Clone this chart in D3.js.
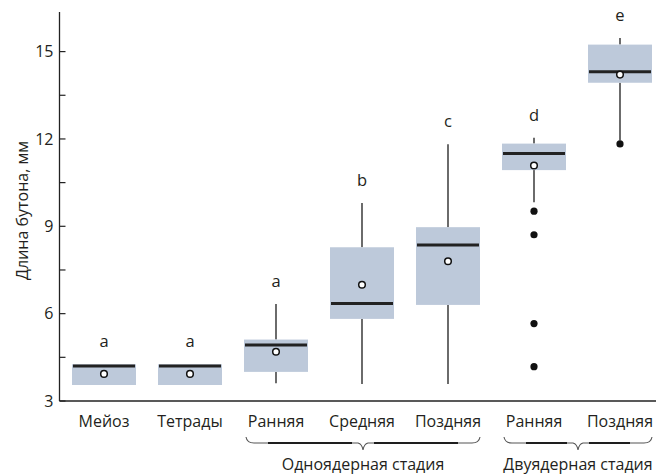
<!DOCTYPE html>
<html>
<head>
<meta charset="utf-8">
<script src="https://cdn.jsdelivr.net/npm/d3@7"></script>
<style>
  html, body { margin: 0; padding: 0; background: #fff; }
  svg { display: block; font-family: "Open Sans", "Noto Sans", sans-serif; }
</style>
</head>
<body>
<svg id="chart" width="662" height="474"></svg>
<script>
// Bud length by developmental stage (mm)
const categories = ["Мейоз", "Тетрады", "Ранняя", "Средняя", "Поздняя", "Ранняя", "Поздняя"];
const q1 =        [3.55, 3.55, 4.00, 5.82, 6.30, 10.93, 13.93];
const q3 =        [4.26, 4.26, 5.11, 8.28, 8.97, 11.84, 15.24];
const medians =   [4.20, 4.20, 4.92, 6.35, 8.36, 11.50, 14.31];
const means =     [3.93, 3.93, 4.69, 6.99, 7.80, 11.09, 14.21];
const whiskerLo = [3.55, 3.55, 3.61, 3.58, 3.58, 9.83, 11.95];
const whiskerHi = [4.26, 4.26, 6.33, 9.80, 11.82, 12.04, 15.47];
const outliers =  [[], [], [], [], [], [9.52, 8.71, 5.66, 4.18], [11.83]];
const letters =   ["a", "a", "a", "b", "c", "d", "e"];

const yTicks = [3, 6, 9, 12, 15];
const yMinorTicks = [4.5, 7.5, 10.5, 13.5];
const groups = [
  { label: "Одноядерная стадия", from: 2, to: 4 },
  { label: "Двуядерная стадия", from: 5, to: 6 }
];
const yTitle = "Длина бутона, мм";

const svg = d3.select("#chart");
const axisX = 59.5, axisY = 401, plotTop = 12, plotRight = 656;

const x = d3.scalePoint().domain(d3.range(categories.length)).range([104, 620]);
const y = d3.scaleLinear().domain([3, 16.36]).range([axisY, plotTop]);
const boxW = 64;
const ink = "#1c1c1c";
const textInk = "#231f20";

const rows = categories.map((c, i) => ({
  i, c, q1: q1[i], q3: q3[i], med: medians[i], mean: means[i],
  lo: whiskerLo[i], hi: whiskerHi[i], out: outliers[i], letter: letters[i]
}));

// whiskers
const g = svg.append("g");
rows.forEach(d => {
  if (d.hi > d.q3) g.append("line").attr("x1", x(d.i)).attr("x2", x(d.i))
    .attr("y1", y(d.hi)).attr("y2", y(d.q3)).attr("stroke", ink).attr("stroke-width", 1.3);
  if (d.lo < d.q1) g.append("line").attr("x1", x(d.i)).attr("x2", x(d.i))
    .attr("y1", y(d.q1)).attr("y2", y(d.lo)).attr("stroke", ink).attr("stroke-width", 1.3);
});

// boxes
g.selectAll("rect.box").data(rows).join("rect").attr("class", "box")
  .attr("x", d => x(d.i) - boxW / 2).attr("width", boxW)
  .attr("y", d => y(d.q3)).attr("height", d => y(d.q1) - y(d.q3))
  .attr("fill", "#bdc9da");

// medians
g.selectAll("line.med").data(rows).join("line").attr("class", "med")
  .attr("x1", d => x(d.i) - boxW / 2 + 1).attr("x2", d => x(d.i) + boxW / 2 - 1)
  .attr("y1", d => y(d.med)).attr("y2", d => y(d.med))
  .attr("stroke", "#222").attr("stroke-width", 3);

// outliers
rows.forEach(d => {
  g.selectAll(null).data(d.out).join("circle")
    .attr("cx", x(d.i)).attr("cy", v => y(v)).attr("r", 3.6).attr("fill", "#111");
});

// means
g.selectAll("circle.mean").data(rows).join("circle").attr("class", "mean")
  .attr("cx", d => x(d.i)).attr("cy", d => y(d.mean)).attr("r", 3.3)
  .attr("fill", "#fff").attr("stroke", "#111").attr("stroke-width", 1.5);

// significance letters, set just above the upper whisker
g.selectAll("text.letter").data(rows).join("text").attr("class", "letter")
  .attr("x", d => x(d.i)).attr("y", d => y(d.hi) - 17)
  .attr("text-anchor", "middle").attr("font-size", 16.5).attr("fill", textInk)
  .text(d => d.letter);

// y axis
const yAxis = svg.append("g");
yAxis.append("line").attr("x1", axisX).attr("x2", axisX).attr("y1", plotTop).attr("y2", axisY)
  .attr("stroke", "#222").attr("stroke-width", 1.3);
yAxis.selectAll("line.tick").data(yTicks.concat(yMinorTicks)).join("line").attr("class", "tick")
  .attr("x1", axisX).attr("x2", axisX + 6)
  .attr("y1", d => y(d)).attr("y2", d => y(d)).attr("stroke", "#222").attr("stroke-width", 1.2);
yAxis.selectAll("text").data(yTicks).join("text")
  .attr("x", axisX - 6).attr("y", d => y(d)).attr("dy", "0.36em")
  .attr("text-anchor", "end").attr("font-size", 16).attr("fill", textInk)
  .text(d => d);
svg.append("text")
  .attr("transform", `translate(28,${(plotTop + axisY) / 2 + 4}) rotate(-90)`)
  .attr("text-anchor", "middle").attr("font-size", 16).attr("fill", textInk)
  .text(yTitle);

// x axis
svg.append("line").attr("x1", axisX).attr("x2", plotRight).attr("y1", axisY).attr("y2", axisY)
  .attr("stroke", "#222").attr("stroke-width", 1.4);
svg.selectAll("text.cat").data(rows).join("text").attr("class", "cat")
  .attr("x", d => x(d.i)).attr("y", 426.5)
  .attr("text-anchor", "middle").attr("font-size", 16).attr("fill", textInk)
  .text(d => d.c);

// group braces with labels
const yEnd = 437, yLine = 443, yTip = 450;
groups.forEach(gr => {
  const x0 = x(gr.from) - 30, x1 = x(gr.to) + 32, mid = (x0 + x1) / 2;
  const p = d3.path();
  p.moveTo(x0, yEnd);
  p.quadraticCurveTo(x0 + 1, yLine, x0 + 8, yLine);
  p.lineTo(mid - 5, yLine);
  p.quadraticCurveTo(mid - 1, yLine + 1, mid, yTip);
  p.quadraticCurveTo(mid + 1, yLine + 1, mid + 5, yLine);
  p.lineTo(x1 - 8, yLine);
  p.quadraticCurveTo(x1 - 1, yLine, x1, yEnd);
  svg.append("path").attr("d", p.toString()).attr("fill", "none")
    .attr("stroke", "#555").attr("stroke-width", 1.1);
  [[x0 + 22, mid - 11], [mid + 11, x1 - 22]].forEach(([a, b]) => {
    svg.append("line").attr("x1", a).attr("x2", b).attr("y1", yLine).attr("y2", yLine)
      .attr("stroke", "#1e1e1e").attr("stroke-width", 2.2);
  });
  svg.append("text").attr("x", mid).attr("y", 470)
    .attr("text-anchor", "middle").attr("font-size", 16).attr("fill", textInk)
    .text(gr.label);
});
</script>
</body>
</html>
